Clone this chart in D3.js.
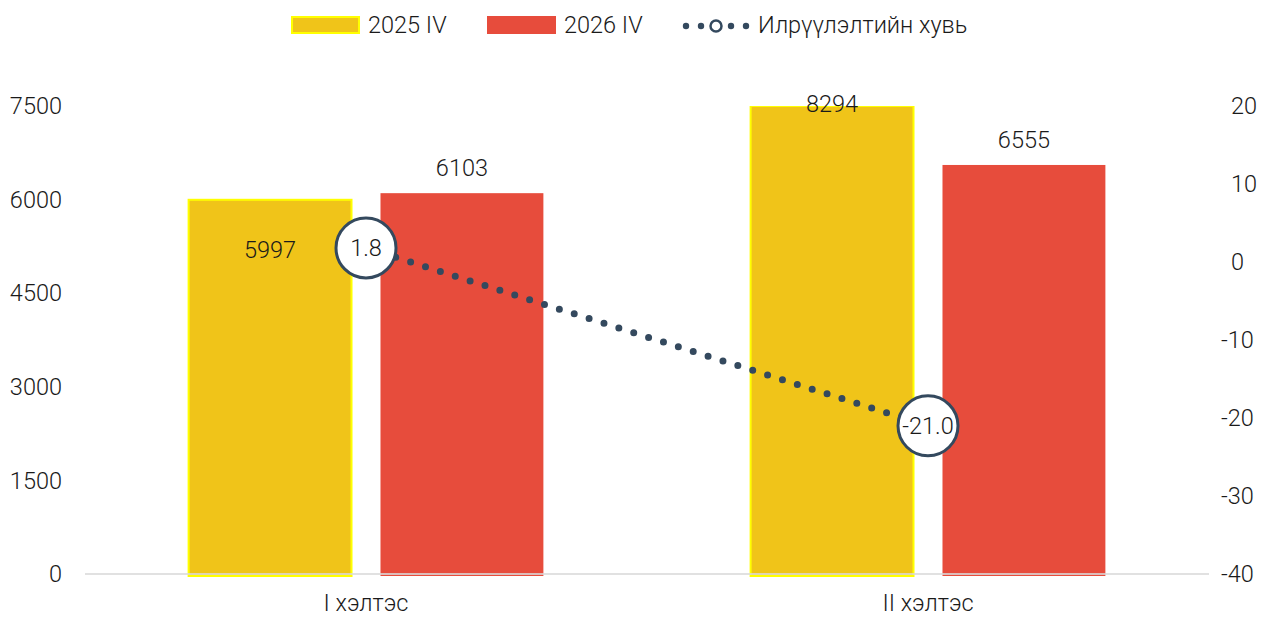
<!DOCTYPE html>
<html>
<head>
<meta charset="utf-8">
<script src="https://cdn.jsdelivr.net/npm/d3@7"></script>
<style>
  body { margin: 0; background: #fff; }
  text { font-family: Roboto, "Noto Sans", sans-serif; fill: #1a1a1a; font-weight: 300; }
</style>
</head>
<body>
<div id="chart"></div>
<script>
const categories = ['I хэлтэс', 'II хэлтэс']
const seriesNames = ['2025 IV', '2026 IV']
const values2025 = [5997, 8294]
const values2026 = [6103, 6555]
const growth = [1.8, -21.0]
const leftTicks = [0, 1500, 3000, 4500, 6000, 7500]
const rightTicks = [-40, -30, -20, -10, 0, 10, 20]
const lineName = 'Илрүүлэлтийн хувь'

const width = 1279, height = 617
const margin = {top: 106, right: 70, bottom: 43, left: 85}
const fs = '23.5px'

const yellow = '#F0C419', red = '#E74C3C', lineCol = '#34495E'

const svg = d3.select('#chart').append('svg')
  .attr('width', width).attr('height', height)

const x = d3.scaleBand().domain(categories)
  .range([margin.left, width - margin.right])

const xInner = d3.scaleBand().domain(seriesNames)
  .range([0, x.bandwidth()]).paddingInner(0.151).paddingOuter(0.54)

const y = d3.scaleLinear().domain([0, 7500])
  .range([height - margin.bottom, margin.top])

const y2 = d3.scaleLinear().domain([-40, 20])
  .range([height - margin.bottom, margin.top])

// left axis labels
svg.append('g').selectAll('text').data(leftTicks).enter().append('text')
  .attr('x', 62).attr('y', d => y(d)).attr('dy', '0.35em')
  .attr('text-anchor', 'end').style('font-size', fs)
  .text(d => d)

// right axis labels
svg.append('g').selectAll('text').data(rightTicks).enter().append('text')
  .attr('x', d => d < 0 ? 1221 : 1231).attr('y', d => y2(d)).attr('dy', '0.35em')
  .attr('text-anchor', 'start').style('font-size', fs)
  .text(d => d)

// bars
const rows = categories.map((c, i) => ({cat: c, vals: [values2025[i], values2026[i]]}))

svg.append('clipPath').attr('id', 'plotclip').append('rect')
  .attr('x', 0).attr('y', margin.top).attr('width', width).attr('height', y(0) - margin.top + 3)

const gBars = svg.append('g').attr('clip-path', 'url(#plotclip)')

rows.forEach(r => {
  r.vals.forEach((v, j) => {
    const bx = x(r.cat) + xInner(seriesNames[j])
    gBars.append('rect')
      .attr('x', bx).attr('y', y(Math.min(v, 7500)))
      .attr('width', xInner.bandwidth())
      .attr('height', y(0) - y(Math.min(v, 7500)) + 2)
      .attr('fill', j === 0 ? yellow : red)
      .attr('stroke', j === 0 ? '#FFFF00' : 'none')
      .attr('stroke-width', 2)
  })
})

// category axis line
svg.append('line')
  .attr('x1', margin.left).attr('x2', width - margin.right)
  .attr('y1', y(0)).attr('y2', y(0))
  .attr('stroke', '#d9d9d9').attr('stroke-width', 2).attr('stroke-opacity', 0.8)

// bar labels
rows.forEach(r => {
  r.vals.forEach((v, j) => {
    const cx = x(r.cat) + xInner(seriesNames[j]) + xInner.bandwidth() / 2
    let ly
    if (v > 7500) ly = y(7500) - 2
    else if (j === 0 && r.cat === categories[0]) ly = y(v) + 50
    else ly = y(v) - 25
    svg.append('text')
      .attr('x', cx).attr('y', ly).attr('dy', '0.35em')
      .attr('text-anchor', 'middle').style('font-size', fs)
      .text(v)
  })
})

// category labels
svg.append('g').selectAll('text').data(categories).enter().append('text')
  .attr('x', d => x(d) + x.bandwidth() / 2).attr('y', 603).attr('dy', '0.35em')
  .attr('text-anchor', 'middle').style('font-size', fs)
  .text(d => d)

// growth line
const pts = categories.map((c, i) => [x(c) + x.bandwidth() / 2, y2(growth[i])])
svg.append('path')
  .attr('d', d3.line()(pts))
  .attr('fill', 'none').attr('stroke', lineCol)
  .attr('stroke-width', 7).attr('stroke-linecap', 'round')
  .attr('stroke-dasharray', '0 15.6')

const markers = svg.append('g').selectAll('g').data(pts).enter().append('g')
  .attr('transform', d => `translate(${d[0]},${d[1]})`)
markers.append('circle').attr('r', 30)
  .attr('fill', '#fff').attr('stroke', lineCol).attr('stroke-width', 3)
markers.append('text').attr('dy', '0.35em').attr('text-anchor', 'middle')
  .style('font-size', fs)
  .text((d, i) => growth[i].toFixed(1))

// legend
const leg = svg.append('g')
const legY = 25
leg.append('rect').attr('x', 292).attr('y', legY - 8).attr('width', 67).attr('height', 16)
  .attr('fill', yellow).attr('stroke', '#FFFF00').attr('stroke-width', 2)
leg.append('text').attr('x', 368).attr('y', legY).attr('dy', '0.35em')
  .style('font-size', fs).text(seriesNames[0])
leg.append('rect').attr('x', 487).attr('y', legY - 9).attr('width', 69).attr('height', 18)
  .attr('fill', red)
leg.append('text').attr('x', 564).attr('y', legY).attr('dy', '0.35em')
  .style('font-size', fs).text(seriesNames[1])
leg.selectAll('circle.dot').data([686, 701, 731, 746]).enter().append('circle')
  .attr('cx', d => d).attr('cy', legY + 1).attr('r', 3.2).attr('fill', lineCol)
leg.append('circle').attr('cx', 716).attr('cy', legY + 1).attr('r', 5.5)
  .attr('fill', '#fff').attr('stroke', lineCol).attr('stroke-width', 2.5)
leg.append('text').attr('x', 758).attr('y', legY).attr('dy', '0.35em')
  .style('font-size', fs).text(lineName)
</script>
</body>
</html>
